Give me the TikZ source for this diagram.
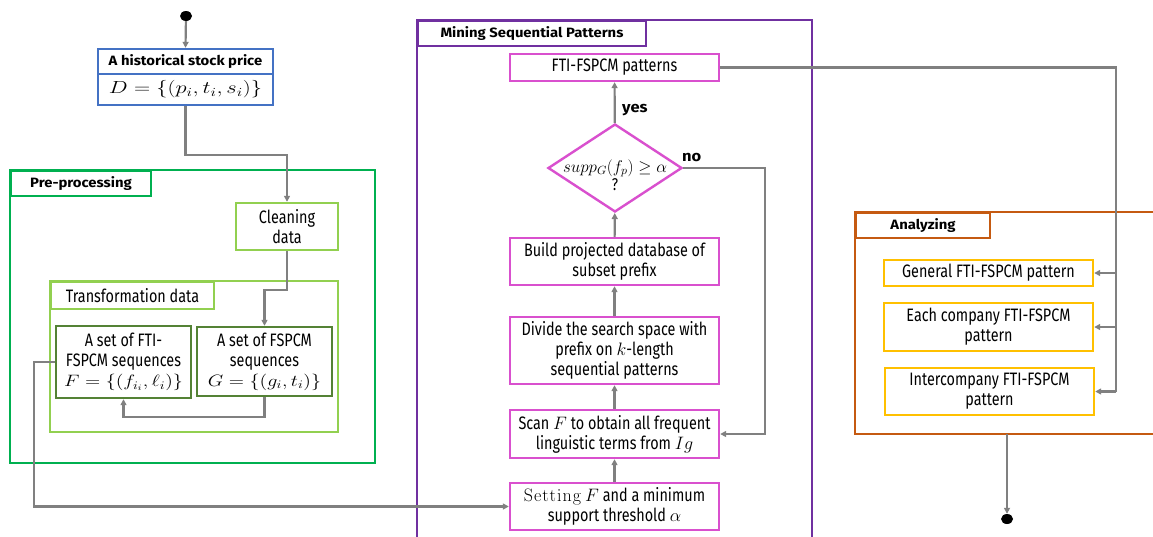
\RequirePackage{fix-cm}
\documentclass[tikz,border=0pt]{standalone}
\usepackage{graphicx}
\usepackage[no-math]{fontspec}
\setmainfont{Fira Sans}[FakeStretch=0.8]
\newfontfamily\headfont{Fira Sans}[FakeStretch=1.1]
\usetikzlibrary{shapes.geometric,arrows.meta}

\definecolor{cblue}{RGB}{68,114,196}
\definecolor{cgreen}{RGB}{0,176,80}
\definecolor{clight}{RGB}{146,208,80}
\definecolor{cdark}{RGB}{84,130,53}
\definecolor{cpurple}{RGB}{112,48,160}
\definecolor{cpink}{RGB}{217,80,206}
\definecolor{corange}{RGB}{197,90,17}
\definecolor{cgold}{RGB}{255,192,0}
\definecolor{cline}{RGB}{128,128,128}

% wide set formulas
\newcommand{\wideformula}[2][1.25]{\scalebox{#1}[1.03]{$#2$}}

\tikzset{
  box/.style={draw=#1, line width=2.4pt, fill=white, inner sep=0pt, align=center,
    font=\fontsize{18}{20}\selectfont},
  frame/.style={draw=#1, line width=2pt},
  tab/.style={draw=#1, line width=2pt, anchor=north west, inner sep=0pt,
    font=\headfont\bfseries\fontsize{13.5}{16}\selectfont},
  conn/.style={draw=cline, line width=2.2pt},
  arr/.style={conn, -{Triangle[length=6pt,width=6pt]}},
  dot/.style={ellipse, fill=black, minimum width=12pt, minimum height=10pt, inner sep=0pt},
  lbl/.style={font=\headfont\bfseries\fontsize{15}{16}\selectfont, inner sep=0pt},
}

\begin{document}
\begin{tikzpicture}[x=1pt,y=-1pt]
\useasboundingbox (0,0) rectangle (1153,536);

% group frames
\draw[frame=cgreen] (10,170) rectangle (375,463);
\node[tab=cgreen, minimum width=140pt, minimum height=25pt] (pretab) at (10,170) {Pre-processing};
\draw[frame=clight] (50,281) rectangle (338,432);
\node[tab=clight, minimum width=163pt, minimum height=27pt, font=\fontsize{18}{18}\selectfont] (transtab) at (50,281) {Transformation data};
\draw[frame=cpurple] (417,20) rectangle (812,570);
\node[tab=cpurple, minimum width=228pt, minimum height=25pt] (mintab) at (417,20) {Mining Sequential Patterns};
\draw[frame=corange] (855,212) rectangle (1180,434);
\node[tab=corange, minimum width=134pt, minimum height=25pt] (anatab) at (855,212) {Analyzing};
\coordinate (anabot) at (1007,434);

% start and end points
\node[dot] (start) at (186,16) {};
\node[dot] (stop) at (1007,519) {};

% input data
\node[box=cblue, minimum width=175pt, minimum height=25pt, font=\headfont\bfseries\fontsize{13.5}{16}\selectfont] (histT) at (185.5,61.5) {A historical stock price};
\node[box=cblue, minimum width=175pt, minimum height=31pt, font=\fontsize{17}{20}\selectfont] (histM) at (185.5,89.5) {\wideformula[1.32]{D=\{(p_i,t_i,s_i)\}}};

% pre-processing
\node[box=clight, minimum width=102pt, minimum height=47pt] (clean) at (287,226.5) {Cleaning\\data};
\node[box=cdark, minimum width=135pt, minimum height=72pt] (fti) at (123.5,362) {A set of FTI-\\FSPCM sequences\\{\fontsize{16}{20}\selectfont\wideformula{F=\{(f_{i_i},\ell_i)\}}}};
\node[box=cdark, minimum width=135pt, minimum height=69pt] (fspcm) at (264.5,361.5) {A set of FSPCM\\sequences\\{\fontsize{16}{20}\selectfont\wideformula{G=\{(g_i,t_i)\}}}};

% mining
\node[box=cpink, minimum width=209pt, minimum height=27pt] (pat) at (614.5,67.5) {FTI-FSPCM patterns};
\node[diamond, draw=cpink, line width=2.4pt, fill=white, inner sep=0pt, aspect=1.52,
  minimum width=134pt, minimum height=88pt] (dia) at (615,168) {};
\node[align=center, inner sep=0pt, font=\fontsize{17}{18}\selectfont] (diatext) at (615,175)
  {$supp_{G}(f_p)\geq\alpha$\\?};
\node[box=cpink, minimum width=209pt, minimum height=47pt] (build) at (614.5,261.5) {Build projected database of\\subset prefix};
\node[box=cpink, minimum width=209pt, minimum height=67pt] (divide) at (614.5,350.5) {Divide the search space with\\prefix on $k$-length\\sequential patterns};
\node[box=cpink, minimum width=209pt, minimum height=48pt] (scan) at (614.5,434) {Scan $F$ to obtain all frequent\\linguistic terms from $Ig$};
\node[box=cpink, minimum width=209pt, minimum height=47pt] (setting) at (614.5,506.5) {$\mathrm{S\mkern1mu e\mkern1mu t\mkern1mu t\mkern1mu i\mkern1mu n\mkern1mu g}$ $F$ and a minimum\\support threshold $\alpha$};

% analyzing
\node[box=cgold, minimum width=209pt, minimum height=26pt] (gen) at (988.5,273) {General FTI-FSPCM pattern};
\node[box=cgold, minimum width=209pt, minimum height=48pt] (each) at (988.5,327) {Each company FTI-FSPCM\\pattern};
\node[box=cgold, minimum width=209pt, minimum height=47pt] (inter) at (989.5,391.5) {Intercompany FTI-FSPCM\\pattern};

% connectors
\draw[arr] (start) -- (histT.north);
\draw[arr] (histM.south) -- ++(0,49) -| (clean.north);
\draw[arr] (clean.south) -- ++(0,39) -| (fspcm.north);
\draw[arr] (fspcm.south) -- ++(0,20) -| (fti.south);
\draw[arr] (fti.west) -- (34,362) |- (setting.west);
\draw[arr] (setting) -- (scan);
\draw[arr] (scan) -- (divide);
\draw[arr] (divide) -- (build);
\draw[arr] (build) -- (dia);
\draw[arr] (dia) -- (pat);
\node[lbl, anchor=west] (yes) at (622,110) {yes};
\draw[arr] (dia.east) -- (765,168) |- (scan.east);
\node[lbl, anchor=south west] (no) at (682,162) {no};
\coordinate (bus) at (1116,67.5);
\draw[conn] (pat.east) -- (bus) -- (bus |- inter.east);
\draw[arr] (bus |- gen.east) -- (gen.east);
\draw[arr] (bus |- each.east) -- (each.east);
\draw[arr] (bus |- inter.east) -- (inter.east);
\draw[arr] (anabot) -- (stop);
\end{tikzpicture}
\end{document}
